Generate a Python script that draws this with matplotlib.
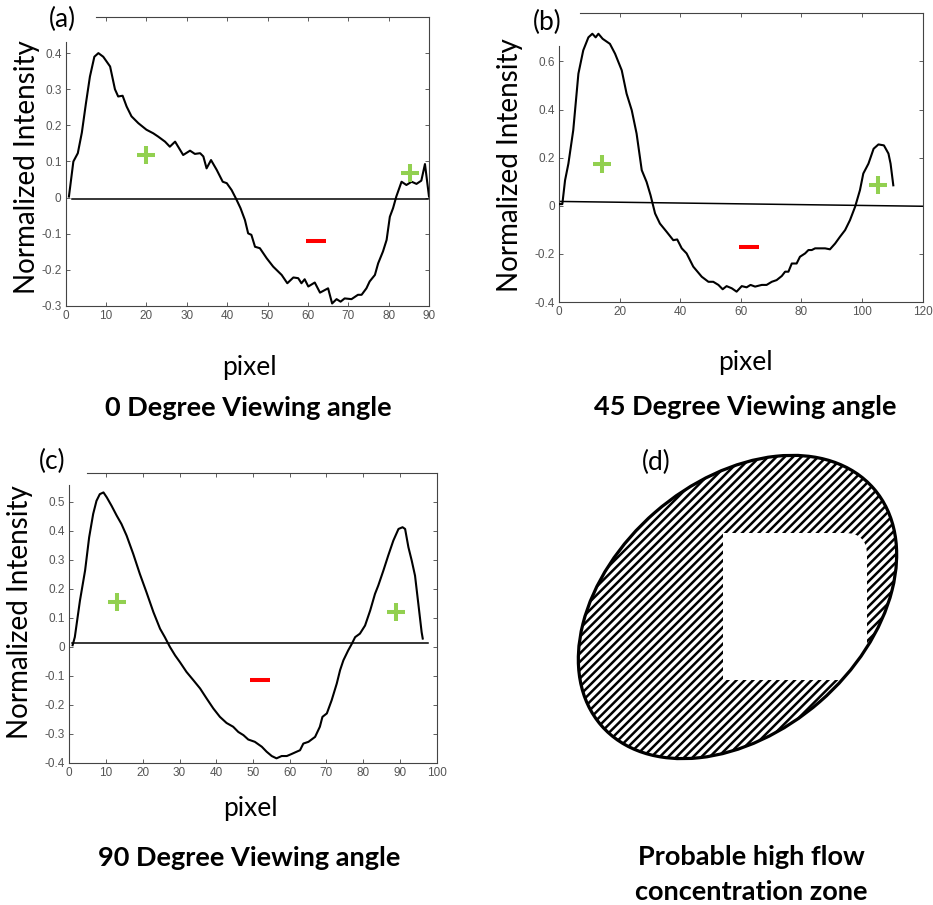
import numpy as np
import matplotlib
matplotlib.use('Agg')
import matplotlib.pyplot as plt
from matplotlib.patches import Ellipse, PathPatch
from matplotlib.path import Path

# ---- data ----
# (a) 0 degree
a_x = [0.8, 1.9, 3.0, 4.0, 5.0, 6.0, 7.1, 8.1, 9.3, 11.0, 12.2, 13.0, 14.1, 15.1, 16.3, 18.0, 20.0, 21.7, 22.9, 24.6,
       25.8, 27.1, 29.1, 30.8, 32.0, 33.3, 34.1, 34.9, 36.0, 37.4, 38.9, 39.9, 41.1, 42.2, 43.3, 44.4, 45.2, 46.0, 46.9,
       48.1, 49.8, 51.4, 53.5, 54.9, 56.4, 57.6, 58.4, 59.2, 60.1, 61.7, 63.0, 65.0, 66.0, 67.1, 68.1, 69.1, 70.8, 72.4,
       73.3, 74.5, 75.3, 76.6, 77.4, 78.6, 79.5, 80.3, 81.1, 81.9, 83.2, 84.4, 85.7, 86.9, 88.1, 89.0, 90.0]
a_y = [0.003, 0.10, 0.123, 0.18, 0.26, 0.335, 0.39, 0.40, 0.39, 0.363, 0.30, 0.28, 0.282, 0.252, 0.225, 0.206, 0.188,
       0.178, 0.169, 0.155, 0.141, 0.155, 0.118, 0.13, 0.121, 0.123, 0.114, 0.081, 0.104, 0.077, 0.044, 0.040, 0.021,
       -0.003, -0.029, -0.062, -0.099, -0.103, -0.136, -0.140, -0.168, -0.191, -0.214, -0.237, -0.221, -0.223, -0.237,
       -0.226, -0.246, -0.235, -0.263, -0.251, -0.293, -0.281, -0.288, -0.279, -0.281, -0.269, -0.269, -0.251, -0.232,
       -0.214, -0.182, -0.149, -0.117, -0.053, -0.029, 0.003, 0.044, 0.035, 0.044, 0.038, 0.047, 0.093, 0.003]
a_zero_x = [1.5, 89.8]
a_zero_y = [-0.004, -0.004]
a_plus = ([20.0, 85.4], [0.118, 0.069])
a_minus = ([61.9], [-0.119])

# (b) 45 degree
b_x = [0.3, 1.1, 2.0, 3.1, 4.7, 6.4, 8.0, 9.7, 11.0, 12.1, 13.0, 14.4, 16.8, 18.5, 20.7, 22.3, 24.0, 25.6, 27.3, 28.9,
       30.2, 31.7, 33.3, 35.5, 37.7, 39.0, 40.5, 42.1, 44.3, 47.1, 49.3, 50.9, 52.6, 54.0, 55.3, 57.0, 58.6, 60.3, 61.9,
       63.2, 64.7, 66.9, 68.5, 70.2, 71.8, 73.5, 74.6, 75.7, 76.8, 78.4, 79.5, 81.2, 82.3, 83.4, 84.5, 86.1, 87.8, 89.4,
       91.1, 92.7, 94.4, 96.0, 97.7, 99.3, 100.4, 102.1, 103.8, 105.4, 107.2, 108.7, 109.4, 110.3]
b_y = [0.007, 0.007, 0.106, 0.175, 0.314, 0.549, 0.646, 0.70, 0.715, 0.70, 0.715, 0.694, 0.673, 0.632, 0.563, 0.466,
       0.397, 0.30, 0.148, 0.099, 0.044, -0.032, -0.074, -0.108, -0.143, -0.140, -0.177, -0.198, -0.253, -0.295,
       -0.316, -0.316, -0.329, -0.347, -0.334, -0.343, -0.357, -0.334, -0.339, -0.329, -0.336, -0.329, -0.329, -0.316,
       -0.309, -0.292, -0.274, -0.274, -0.240, -0.240, -0.212, -0.198, -0.184, -0.184, -0.177, -0.177, -0.177, -0.181,
       -0.157, -0.129, -0.101, -0.060, -0.004, 0.065, 0.134, 0.175, 0.237, 0.255, 0.251, 0.217, 0.175, 0.085]
b_zero_x = [0.0, 120.0]
b_zero_y = [0.018, -0.002]
b_plus = ([14.3, 105.4], [0.175, 0.085])
b_minus = ([62.6], [-0.173])

# (c) 90 degree
c_x = [0.9, 1.5, 2.9, 4.3, 5.4, 6.5, 7.4, 8.3, 9.3, 10.2, 11.5, 12.9, 14.2, 15.6, 17.4, 19.2, 21.0, 22.9, 24.7, 26.0,
       27.4, 28.8, 30.1, 31.9, 33.8, 35.6, 37.4, 39.2, 41.0, 42.8, 44.6, 46.0, 47.4, 48.7, 50.5, 52.4, 53.7, 55.1, 56.4,
       57.8, 59.2, 60.5, 61.9, 62.8, 63.7, 65.1, 66.9, 68.2, 68.9, 70.1, 71.4, 72.8, 73.7, 74.6, 75.9, 76.9, 77.8, 79.1,
       80.5, 81.9, 83.2, 84.1, 85.5, 86.8, 88.2, 89.6, 90.7, 91.4, 92.3, 93.2, 94.1, 95.0, 95.9, 96.2]
c_y = [0.005, 0.033, 0.159, 0.263, 0.377, 0.458, 0.503, 0.526, 0.532, 0.515, 0.486, 0.452, 0.423, 0.383, 0.320, 0.251,
       0.188, 0.119, 0.062, 0.033, -0.001, -0.030, -0.053, -0.087, -0.116, -0.144, -0.179, -0.213, -0.242, -0.263,
       -0.276, -0.294, -0.305, -0.320, -0.328, -0.345, -0.362, -0.377, -0.385, -0.377, -0.377, -0.370, -0.362, -0.357,
       -0.334, -0.328, -0.311, -0.276, -0.242, -0.230, -0.185, -0.127, -0.081, -0.047, -0.013, 0.010, 0.033, 0.045,
       0.073, 0.125, 0.182, 0.211, 0.263, 0.314, 0.366, 0.406, 0.412, 0.406, 0.343, 0.297, 0.245, 0.148, 0.050, 0.028]
c_zero_x = [0.6, 97.7]
c_zero_y = [0.013, 0.013]
c_plus = ([12.9, 88.9], [0.154, 0.119])
c_minus = ([51.9], [-0.116])

# (d) schematic ellipse, in figure pixels (y up)
ell_center = (737.5, 298)
ell_size = (361, 251)
ell_angle = 41

W, H = 933, 905
CAL = 'Lato'
GREEN = '#92d050'
TICK_GREY = '#555555'

plt.rcParams['hatch.linewidth'] = 1.8
fig = plt.figure(figsize=(W / 100, H / 100), dpi=100)


def rect(x0, y0, x1, y1):
    # pixel box (y from top) -> figure fraction
    return [x0 / W, 1 - y1 / H, (x1 - x0) / W, (y1 - y0) / H]


def fmt(v):
    v = round(float(v), 2) + 0.0
    return '0' if abs(v) < 1e-9 else '%g' % v


def panel(box, x, y, zx, zy, plus, minus, xlim, ylim, xticks, yticks, top_from, left_to):
    ax = fig.add_axes(rect(*box))
    ax.plot(x, y, color='black', lw=1.5, zorder=3)
    ax.plot(zx, zy, color='black', lw=1.1, zorder=2)
    ax.plot(plus[0], plus[1], ls='none', marker='+', ms=13, mew=2.9, color=GREEN, zorder=4)
    ax.plot(minus[0], minus[1], ls='none', marker='_', ms=14.5, mew=2.9, color='red', zorder=4)
    ax.set_xlim(xlim)
    ax.set_ylim(ylim)
    ax.set_xticks(xticks)
    ax.set_yticks(yticks)
    ax.set_xticklabels([fmt(v) for v in xticks])
    ax.set_yticklabels([fmt(v) for v in yticks])
    for s in ax.spines.values():
        s.set_color('#444444')
        s.set_linewidth(0.8)
    ax.spines['top'].set_bounds(top_from, xlim[1])
    ax.spines['left'].set_bounds(ylim[0], left_to)
    ax.tick_params(direction='in', top=True, right=True, length=3, width=0.6,
                   color='#444444', labelcolor=TICK_GREY, labelsize=8.5, pad=3)
    for lab in ax.get_xticklabels() + ax.get_yticklabels():
        lab.set_family('Liberation Sans')
    ax.xaxis.get_major_ticks()[0].tick2line.set_visible(False)
    return ax


panel((65.7, 17, 429, 306), a_x, a_y, a_zero_x, a_zero_y, a_plus, a_minus,
      (0, 90), (-0.3, 0.5), np.arange(0, 91, 10), np.arange(-0.3, 0.41, 0.1), 7.5, 0.431)
panel((559, 13.3, 922.7, 302), b_x, b_y, b_zero_x, b_zero_y, b_plus, b_minus,
      (0, 120), (-0.4, 0.8), np.arange(0, 121, 20), np.arange(-0.4, 0.61, 0.2), 6.9, 0.666)
panel((69.3, 472.7, 436.7, 762.7), c_x, c_y, c_zero_x, c_zero_y, c_plus, c_minus,
      (0, 100), (-0.4, 0.6), np.arange(0, 101, 10), np.arange(-0.4, 0.51, 0.1), 4.7, 0.557)


def ftext(x, y, s, **kw):
    kw.setdefault('ha', 'center')
    kw.setdefault('va', 'center')
    kw.setdefault('family', CAL)
    fig.text(x / W, 1 - y / H, s, **kw)


# axis labels
for x, y in [(27, 167), (510, 165), (20, 612)]:
    ftext(x, y, 'Normalized Intensity', rotation=90, fontsize=20)
for x, y in [(249, 367), (745, 362), (250, 808)]:
    ftext(x, y, 'pixel', fontsize=19)

# panel letters
for x, y, s in [(62, 19, '(a)'), (547, 22, '(b)'), (52, 461, '(c)'), (656, 462, '(d)')]:
    ftext(x, y, s, fontsize=19)

# captions
ftext(248, 408, '0 Degree Viewing angle', fontsize=19.5, weight='bold')
ftext(745, 407, '45 Degree Viewing angle', fontsize=19.5, weight='bold')
ftext(249, 858, '90 Degree Viewing angle', fontsize=19.5, weight='bold')
ftext(751, 857, 'Probable high flow', fontsize=19.5, weight='bold')
ftext(751, 892, 'concentration zone', fontsize=19.5, weight='bold')

# (d) ellipse with a cut-out zone
axd = fig.add_axes(rect(560, 450, 933, 800))
axd.set_xlim(560, 933)
axd.set_ylim(H - 800, H - 450)
axd.axis('off')
axd.add_patch(Ellipse(ell_center, ell_size[0], ell_size[1], angle=ell_angle,
                      facecolor='white', edgecolor='black', hatch='////', lw=0, zorder=1))
x0, x1, y0, y1, r = 723, 867, H - 680, H - 533, 22
verts = [(x0, y0), (x1, y0), (x1, y1 - r), (x1, y1), (x1 - r, y1), (x0, y1), (x0, y0)]
codes = [Path.MOVETO, Path.LINETO, Path.LINETO, Path.CURVE3, Path.CURVE3, Path.LINETO, Path.CLOSEPOLY]
axd.add_patch(PathPatch(Path(verts, codes), facecolor='white', edgecolor='none', zorder=2))
axd.add_patch(Ellipse(ell_center, ell_size[0], ell_size[1], angle=ell_angle,
                      fill=False, edgecolor='black', lw=2.3, zorder=3))

fig.savefig('out.png', dpi=100, facecolor='white')
